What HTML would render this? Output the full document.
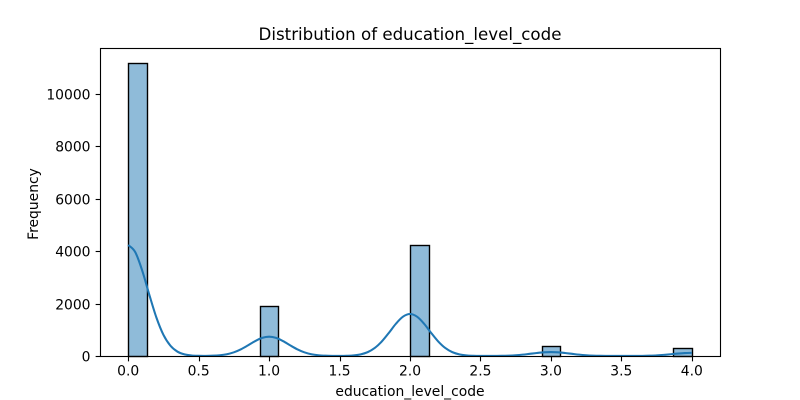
<!DOCTYPE html>
<html>
<head>
<meta charset="utf-8">
<title>Distribution of education_level_code</title>
<style>
html,body{margin:0;padding:0;background:#fff;width:800px;height:400px;overflow:hidden}
svg{display:block}
text{font-family:"DejaVu Sans",sans-serif;fill:#000}
</style>
</head>
<body>
<svg id="chart" xmlns="http://www.w3.org/2000/svg" width="800" height="400" viewBox="0 0 800 400"></svg>
<script>
const binCounts = [11180,0,0,0,0,0,0,1920,0,0,0,0,0,0,0,4230,0,0,0,0,0,0,390,0,0,0,0,0,0,310];
const binStart = 0;
const binWidth = 4 / 30;
const kdeStart = 0;
const kdeStep = 0.05;
const kdeValues = [4236,3965,3253,2334,1470,809,392,165,61,20,7,5,11,29,68,141,256,406,566,690,737,690,566,406,256,141,68,29,11,4,3,8,23,63,148,306,556,883,1231,1500,1603,1500,1231,883,556,306,148,63,23,8,3,2,4,6,14,29,52,83,115,140,150,140,115,83,52,29,14,6,3,1,1,1,1,3,11,23,42,66,92,112,120];
const xTicks = [0,0.5,1,1.5,2,2.5,3,3.5,4];
const xTickLabels = ["0.0","0.5","1.0","1.5","2.0","2.5","3.0","3.5","4.0"];
const yTicks = [0,2000,4000,6000,8000,10000];
const yTickLabels = ["0","2000","4000","6000","8000","10000"];
const chartTitle = "Distribution of education_level_code";
const xAxisTitle = "education_level_code";
const yAxisTitle = "Frequency";

const NS = "http://www.w3.org/2000/svg";
const svg = document.getElementById("chart");
const plot = {left:100.5, right:720.5, top:48.5, bottom:356.5};
function xScale(v){ return 128.2 + v * 140.9; }
function yScale(v){ return 356 - v * 0.0262; }
function snap(p){ return Math.round(p) + 0.5; }
function make(tag, attrs, parent){
  const el = document.createElementNS(NS, tag);
  for (const k in attrs) el.setAttribute(k, attrs[k]);
  (parent || svg).appendChild(el);
  return el;
}

// bars
const barsGroup = make("g", {});


binCounts.forEach(function(count, i){
  const x0 = snap(xScale(binStart + i * binWidth));
  const x1 = snap(xScale(binStart + (i + 1) * binWidth));
  const y = snap(yScale(count));
  const bar = make("rect", {x:x0, y:y, width:x1 - x0, height:plot.bottom - y, fill:"#1f77b4", "fill-opacity":0.5, stroke:"#000", "stroke-width":1.39}, barsGroup);
  
  
});

// KDE line: smooth curve through the value array
const kdeXY = kdeValues.map(function(v, i){
  return [xScale(kdeStart + i * kdeStep), yScale(v)];
});
let kdePath = "M" + kdeXY[0][0].toFixed(2) + " " + kdeXY[0][1].toFixed(2);
for (let i = 0; i < kdeXY.length - 1; i++) {
  const p0 = kdeXY[Math.max(i - 1, 0)];
  const p1 = kdeXY[i];
  const p2 = kdeXY[i + 1];
  const p3 = kdeXY[Math.min(i + 2, kdeXY.length - 1)];
  const c1x = p1[0] + (p2[0] - p0[0]) / 6;
  const c1y = p1[1] + (p2[1] - p0[1]) / 6;
  const c2x = p2[0] - (p3[0] - p1[0]) / 6;
  const c2y = p2[1] - (p3[1] - p1[1]) / 6;
  kdePath += " C" + c1x.toFixed(2) + " " + c1y.toFixed(2) + " " + c2x.toFixed(2) + " " + c2y.toFixed(2) + " " + p2[0].toFixed(2) + " " + p2[1].toFixed(2);
}
const kdeLine = make("path", {d:kdePath, fill:"none", stroke:"#1f77b4", "stroke-width":2.08, "stroke-linejoin":"round", "stroke-linecap":"butt"});



// frame
const frame = make("rect", {x:plot.left, y:plot.top, width:plot.right - plot.left, height:plot.bottom - plot.top, fill:"none", stroke:"#000", "stroke-width":1.11});



// x ticks
xTicks.forEach(function(t, i){
  const x = snap(xScale(t));
  const tick = make("line", {x1:x, x2:x, y1:plot.bottom, y2:plot.bottom + 4.86, stroke:"#000", "stroke-width":1.11});
  
  
  const label = make("text", {x:xScale(t), y:375.5, "text-anchor":"middle", "font-size":"13.89px"});
  label.textContent = xTickLabels[i];
  
  
});

// y ticks
yTicks.forEach(function(t, i){
  const y = snap(yScale(t));
  const tick = make("line", {x1:plot.left, x2:plot.left - 4.86, y1:y, y2:y, stroke:"#000", "stroke-width":1.11});
  
  
  const label = make("text", {x:plot.left - 10, y:y + 5, "text-anchor":"end", "font-size":"13.89px"});
  label.textContent = yTickLabels[i];
  
  
});

// titles
const titleEl = make("text", {x:410, y:40, "text-anchor":"middle", "font-size":"16.67px"});
titleEl.textContent = chartTitle;



const xTitleEl = make("text", {x:410, y:396, "text-anchor":"middle", "font-size":"13.89px"});
xTitleEl.textContent = xAxisTitle;



const yTitleEl = make("text", {x:38, y:204, "text-anchor":"middle", "font-size":"13.89px", transform:"rotate(-90 38 204)"});
yTitleEl.textContent = yAxisTitle;


</script>
</body>
</html>
